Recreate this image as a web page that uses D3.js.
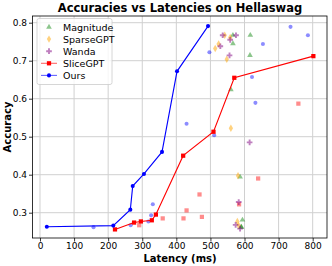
<!DOCTYPE html>
<html><head><meta charset="utf-8">
<script src="https://cdn.jsdelivr.net/npm/d3@7"></script>
<style>body{margin:0;background:#fff}svg{display:block;font-family:"DejaVu Sans",sans-serif}</style>
</head><body><svg id="c" width="332" height="266"></svg>
<script>
const xTicks = [0,100,200,300,400,500,600,700,800];
const yTicks = [0.3,0.4,0.5,0.6,0.7,0.8];

const oursLat = [20,215,265,272,305,358,402,493];
const oursAcc = [0.263,0.266,0.308,0.370,0.402,0.460,0.672,0.791];
const sliceLat = [220,276,296,328,340,420,509,570,802];
const sliceAcc = [0.256,0.274,0.277,0.280,0.295,0.450,0.513,0.655,0.712];

const oursOtherLat = [157,266,318,326,331,430,511,497,622,632,654,735,786];
const oursOtherAcc = [0.262,0.267,0.277,0.293,0.322,0.534,0.504,0.722,0.657,0.589,0.744,0.789,0.767];
const sliceOtherLat = [291,360,421,430,468,475,584,640,758];
const sliceOtherAcc = [0.267,0.285,0.285,0.306,0.348,0.289,0.322,0.390,0.587];
const magLat = [566,617,566,616,560,587,594,590,591];
const magAcc = [0.767,0.767,0.745,0.714,0.624,0.394,0.281,0.262,0.262];
const sparseLat = [542,558,524,514,548,560,581,579,583];
const sparseAcc = [0.767,0.761,0.744,0.732,0.704,0.522,0.397,0.277,0.266];
const wandaLat = [536,575,558,529,556,615,583,574,587];
const wandaAcc = [0.767,0.767,0.755,0.738,0.714,0.485,0.328,0.268,0.258];

const svg = d3.select("#c");
const L=32.5,R=327,T=16,B=238;
const x = d3.scaleLinear().domain([-22,842]).range([L,R]);
const y = d3.scaleLinear().domain([0.2334,0.8176]).range([B,T]);

// grid
const g = svg.append("g");
g.selectAll(".gx").data(xTicks).join("line").attr("x1",d=>x(d)).attr("x2",d=>x(d)).attr("y1",T).attr("y2",B).attr("stroke","#d0d0d0").attr("stroke-width",1);
g.selectAll(".gy").data(yTicks).join("line").attr("y1",d=>y(d)).attr("y2",d=>y(d)).attr("x1",L).attr("x2",R).attr("stroke","#d0d0d0").attr("stroke-width",1);

// axes
const xa = svg.append("g").attr("transform",`translate(0,${B})`).call(d3.axisBottom(x).tickValues(xTicks).tickFormat(d3.format("d")).tickSize(3.5).tickPadding(1.5));
const ya = svg.append("g").attr("transform",`translate(${L},0)`).call(d3.axisLeft(y).tickValues(yTicks).tickFormat(d3.format(".1f")).tickSize(3.5).tickPadding(2));
[xa,ya].forEach(a=>{a.selectAll("text").attr("font-size","9px").attr("fill","#000").attr("font-family","DejaVu Sans");a.select(".domain").remove();a.selectAll("line").attr("stroke","#000").attr("stroke-width",0.8);});
svg.append("rect").attr("x",L).attr("y",T).attr("width",R-L).attr("height",B-T).attr("fill","none").attr("stroke","#000").attr("stroke-width",0.8);

const tri = d3.symbol().type(d3.symbolTriangle).size(14);
const dia = d3.symbol().type(d3.symbolDiamond).size(16);
const plus = d3.symbol().type(d3.symbolCross).size(18);
const circ = d3.symbol().type(d3.symbolCircle).size(13);
const sq = d3.symbol().type(d3.symbolSquare).size(18);

function scatter(lat,acc,sym,color,op){
  svg.append("g").selectAll("path").data(lat.map((v,i)=>[v,acc[i]])).join("path")
    .attr("d",sym).attr("transform",d=>`translate(${x(d[0])},${y(d[1])})`).attr("fill",color).attr("opacity",op);
}
scatter(oursOtherLat,oursOtherAcc,circ,"blue",0.45);
scatter(sliceOtherLat,sliceOtherAcc,sq,"red",0.45);
scatter(magLat,magAcc,tri,"green",0.45);
scatter(sparseLat,sparseAcc,dia,"orange",0.5);
scatter(wandaLat,wandaAcc,plus,"purple",0.5);

const line = d3.line().x(d=>x(d[0])).y(d=>y(d[1]));
function lineSeries(lat,acc,sym,color){
  const pts = lat.map((v,i)=>[v,acc[i]]);
  svg.append("path").datum(pts).attr("d",line).attr("fill","none").attr("stroke",color).attr("stroke-width",1.1);
  svg.append("g").selectAll("path").data(pts).join("path").attr("d",sym).attr("transform",d=>`translate(${x(d[0])},${y(d[1])})`).attr("fill",color);
}
lineSeries(sliceLat,sliceAcc,sq,"red");
lineSeries(oursLat,oursAcc,circ,"blue");

// legend
const lg = svg.append("g");
lg.append("rect").attr("x",37).attr("y",18.5).attr("width",75).attr("height",66).attr("rx",2).attr("fill","#fff").attr("fill-opacity",0.8).attr("stroke","#ccc").attr("stroke-width",0.8);
const items = [["Magnitude",tri,"green",0.45,false],["SparseGPT",dia,"orange",0.5,false],["Wanda",plus,"purple",0.5,false],["SliceGPT",sq,"red",1,true],["Ours",circ,"blue",1,true]];
items.forEach((it,i)=>{
  const yy = 27+i*12.1;
  if(it[4]) lg.append("line").attr("x1",41).attr("x2",57).attr("y1",yy).attr("y2",yy).attr("stroke",it[2]).attr("stroke-width",1.1).attr("opacity",0.6);
  lg.append("path").attr("d",it[1]).attr("transform",`translate(49,${yy})`).attr("fill",it[2]).attr("opacity",it[3]);
  lg.append("text").attr("x",63).attr("y",yy+3.5).attr("font-size","9.5px").text(it[0]);
});

svg.append("text").attr("x",180).attr("y",12).attr("text-anchor","middle").attr("font-weight","bold").attr("font-size","11.5px").text("Accuracies vs Latencies on Hellaswag");
svg.append("text").attr("x",180).attr("y",261.5).attr("text-anchor","middle").attr("font-weight","bold").attr("font-size","10px").text("Latency (ms)");
svg.append("text").attr("transform","translate(11,127) rotate(-90)").attr("text-anchor","middle").attr("font-weight","bold").attr("font-size","10px").text("Accuracy");
</script></body></html>
